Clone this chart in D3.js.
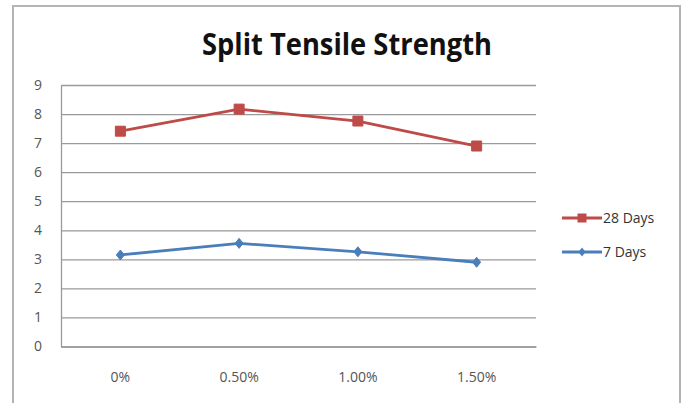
<!DOCTYPE html>
<html>
<head>
<meta charset="utf-8">
<script src="https://cdn.jsdelivr.net/npm/d3@7"></script>
<style>
  html, body { margin: 0; padding: 0; background: #ffffff; }
  svg { display: block; }
</style>
</head>
<body>
<script>
// Fibre dosage categories and split tensile strength (MPa) at each curing age
const categories = ["0%", "0.50%", "1.00%", "1.50%"];
const days28 = [7.41, 8.17, 7.76, 6.90];
const days7 = [3.15, 3.55, 3.26, 2.90];
const yTicks = [0, 1, 2, 3, 4, 5, 6, 7, 8, 9];
const seriesNames = ["28 Days", "7 Days"];
const seriesColors = ["#BE4B48", "#4A7EBB"];

const W = 683, H = 403;
const plot = { left: 61, right: 536, top: 85, bottom: 346.5 };

const svg = d3.select("body").append("svg")
  .attr("width", W).attr("height", H);

// chart frame
svg.append("rect")
  .attr("x", 13).attr("y", 6)
  .attr("width", 667).attr("height", 420)
  .attr("fill", "#ffffff")
  .attr("stroke", "#b4b4b4")
  .attr("stroke-width", 2);

// title
svg.append("text")
  .attr("x", 347).attr("y", 54.5)
  .attr("text-anchor", "middle")
  .attr("font-family", "'Open Sans', sans-serif")
  .attr("font-weight", 700)
  .attr("font-size", 30)
  .attr("textLength", 290)
  .attr("lengthAdjust", "spacingAndGlyphs")
  .attr("fill", "#111111")
  .text("Split Tensile Strength");

const x = d3.scaleBand().domain(categories).range([plot.left, plot.right]);
const y = d3.scaleLinear().domain([0, 9]).range([plot.bottom, plot.top]);

// value axis with gridlines
const yAxis = svg.append("g")
  .attr("transform", `translate(${plot.left},0)`)
  .call(d3.axisLeft(y).tickValues(yTicks)
    .tickSizeInner(-(plot.right - plot.left)).tickSizeOuter(0)
    .tickPadding(19).tickFormat(d3.format("d")));
yAxis.select(".domain").attr("stroke", "#9a9a9a").attr("stroke-width", 1.3);
yAxis.selectAll(".tick line").attr("stroke", "#9a9a9a").attr("stroke-width", 1.3);
yAxis.selectAll(".tick text")
  .attr("font-family", "'Open Sans', sans-serif")
  .attr("font-size", 14)
  .attr("fill", "#555555");

// category axis
const xAxis = svg.append("g")
  .attr("transform", `translate(0,${plot.bottom})`)
  .call(d3.axisBottom(x).tickSize(0).tickPadding(26));
xAxis.select(".domain").attr("stroke", "#9a9a9a").attr("stroke-width", 1.3);
xAxis.selectAll(".tick text")
  .attr("font-family", "'Open Sans', sans-serif")
  .attr("font-size", 14)
  .attr("fill", "#555555");

const cx = c => x(c) + x.bandwidth() / 2;
const line = d3.line().x(d => cx(d.c)).y(d => y(d.v));

const squarePath = (s) => `M${-s/2},${-s/2}h${s}v${s}h${-s}Z`;
const diamondPath = (w, h) => `M0,${-h/2}L${w/2},0L0,${h/2}L${-w/2},0Z`;

function drawSeries(values, color, marker) {
  const pts = categories.map((c, i) => ({ c, v: values[i] }));
  svg.append("path")
    .datum(pts)
    .attr("d", line)
    .attr("fill", "none")
    .attr("stroke", color)
    .attr("stroke-width", 2.8)
    .attr("stroke-linejoin", "round");
  svg.selectAll(null).data(pts).enter().append("path")
    .attr("transform", d => `translate(${cx(d.c)},${y(d.v)})`)
    .attr("d", marker)
    .attr("fill", color)
    .attr("stroke", color)
    .attr("stroke-width", 1);
}

drawSeries(days28, seriesColors[0], squarePath(10));
drawSeries(days7, seriesColors[1], diamondPath(8, 10));

// legend
const legend = svg.append("g");
const legendRows = [
  { name: seriesNames[0], color: seriesColors[0], marker: squarePath(9), y: 218 },
  { name: seriesNames[1], color: seriesColors[1], marker: diamondPath(7, 9), y: 252 }
];
legendRows.forEach(r => {
  legend.append("line")
    .attr("x1", 562).attr("x2", 602)
    .attr("y1", r.y).attr("y2", r.y)
    .attr("stroke", r.color).attr("stroke-width", 2.8);
  legend.append("path")
    .attr("transform", `translate(582,${r.y})`)
    .attr("d", r.marker)
    .attr("fill", r.color);
  legend.append("text")
    .attr("x", 603).attr("y", r.y)
    .attr("dy", "0.35em")
    .attr("font-family", "'Open Sans', sans-serif")
    .attr("font-size", 14)
    .attr("fill", "#333333")
    .text(r.name);
});
</script>
</body>
</html>
